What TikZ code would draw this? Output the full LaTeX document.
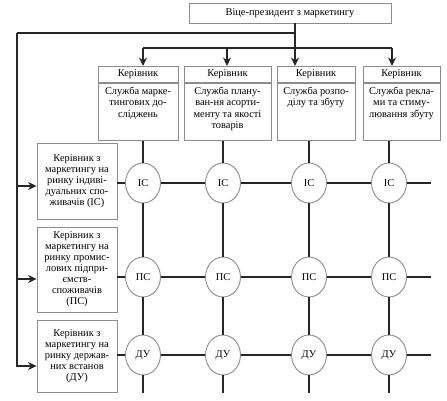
\documentclass[tikz,border=0pt]{standalone}
\usepackage{fontspec}
\setmainfont{Liberation Serif}
\usetikzlibrary{arrows.meta, positioning, shapes.geometric}
\definecolor{frame}{gray}{0.55}
\definecolor{wire}{gray}{0.15}

\tikzset{
  box/.style={draw=frame, line width=0.9pt, align=center, inner sep=2pt,
    font=\fontsize{10.4}{11}\selectfont},
  head/.style={box, anchor=north, minimum height=16pt},
  body/.style={box, minimum height=57pt},
  note/.style={align=center, inner sep=0pt, anchor=north,
    font=\fontsize{10.4}{11.3}\selectfont},
  seg/.style={ellipse, draw=frame, line width=0.9pt, fill=white,
    minimum width=35pt, minimum height=40pt, inner sep=0pt,
    font=\fontsize{10.4}{11}\selectfont},
  link/.style={draw=wire, line width=1.6pt},
  feed/.style={link, -{Stealth[length=8.5pt, width=8pt]}}
}

\begin{document}
\begin{tikzpicture}[x=1pt, y=-1pt]
  \useasboundingbox (0,0) rectangle (447,400);

  % vice-president
  \node[box, minimum width=202pt, minimum height=20pt] (vp) at (290,13)
    {Віце-президент з маркетингу};

  % functional services
  \foreach \x/\w/\k/\t in {
      138/80/1/{Служба марке-\\тингових до-\\сліджень},
      227.5/87/2/{Служба плану-\\ван-ня асорти-\\менту та якості\\товарів},
      316/78/3/{Служба розпо-\\ділу та збуту},
      401.5/77/4/{Служба рекла-\\ми та стиму-\\лювання збуту}}
  {
    \node[head, minimum width=\w pt] (h\k) at (\x,66) {Керівник};
    \node[body, minimum width=\w pt, below=0pt of h\k] (s\k) {};
    \node[note] (t\k) at ([yshift=-4pt]s\k.north) {\t};
  }

  % market managers
  \node[box, minimum width=80pt, minimum height=76pt] (ic) at (77,181)
    {Керівник з\\маркетингу на\\ринку індиві-\\дуальних спо-\\живачів (ІС)};
  \node[box, minimum width=80pt, minimum height=85pt] (ps) at (77,269.5)
    {Керівник з\\маркетингу на\\ринку промис-\\лових підпри-\\ємств-\\споживачів\\(ПС)};
  \node[box, minimum width=80pt, minimum height=72pt] (du) at (77,356)
    {Керівник з\\маркетингу на\\ринку держав-\\них встанов\\(ДУ)};

  % matrix cells
  \foreach \x [count=\i] in {143,223,309,389}
    \foreach \y/\m [count=\j] in {183/ІС,277/ПС,355/ДУ}
      \node[seg] (c\j\i) at (\x,\y) {\m};

  \coordinate (edge) at (431,0);
  \coordinate (floor) at (0,393);
  \coordinate (knee) at (295,33);
  \coordinate (corner) at (17,33);
  \foreach \x [count=\k] in {143,227,295,392}
    \coordinate (tap\k) at (\x,48);

  % top connections
  \draw[link] (vp.south -| knee) -- (tap3);
  \draw[link] (tap1) -- (tap4);
  \foreach \k in {1,...,4}
    \draw[feed] (tap\k) -- (tap\k |- h\k.north);
  \draw[link] (knee) -- (corner);
  \draw[feed] (corner) |- ([yshift=-10pt]du.west);
  \draw[feed] (corner |- ic.west) ++(0,5) -- ([yshift=-5pt]ic.west);
  \draw[feed] (corner |- ps.west) ++(0,9.5) -- ([yshift=-9.5pt]ps.west);

  % columns
  \foreach \i in {1,...,4}
    \draw[link] (c1\i |- s\i.south) -- (c1\i) -- (c2\i) -- (c3\i) -- (c3\i |- floor);

  % rows
  \foreach \j/\b in {1/ic,2/ps,3/du}
    \draw[link] (\b.east |- c\j1) -- (c\j1) -- (c\j2) -- (c\j3) -- (c\j4) -- (c\j4 -| edge);
\end{tikzpicture}
\end{document}
